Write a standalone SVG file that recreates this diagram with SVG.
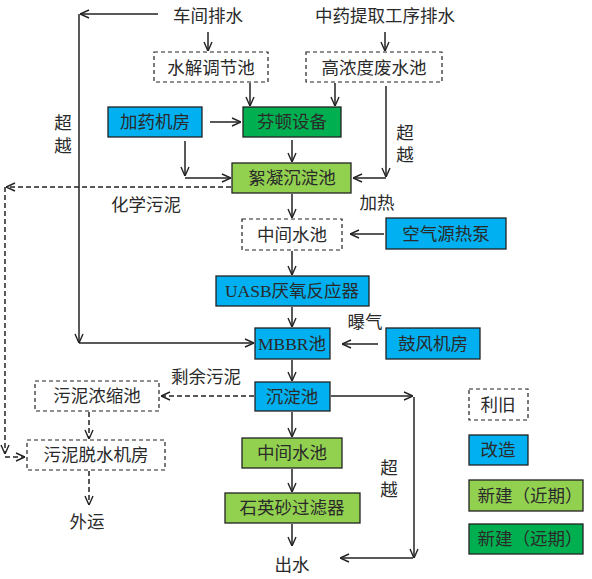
<svg xmlns="http://www.w3.org/2000/svg" width="592" height="579" viewBox="0 0 592 579">
<defs>
<marker id="a" viewBox="0 0 10 10" refX="10" refY="5" markerWidth="10" markerHeight="10" markerUnits="userSpaceOnUse" orient="auto">
<path d="M1,1 L10,5 L1,9" fill="none" stroke="#222" stroke-width="1.4"/>
</marker>
<style>
text{font-family:"Liberation Serif","Noto Sans CJK SC",serif;font-size:17.5px;fill:#2a2a2a;text-anchor:middle;dominant-baseline:central}
.c{stroke:#222;stroke-width:1.5;fill:none;marker-end:url(#a)}
.d{stroke-dasharray:5,3}
.old{fill:#fff;stroke:#222;stroke-width:1.2;stroke-dasharray:4,3}
.blue{fill:#00B0F0;stroke:#222;stroke-width:1.3}
.lg{fill:#92D050;stroke:#222;stroke-width:1.3}
.dg{fill:#00B050;stroke:#222;stroke-width:1.3}
</style>
</defs>
<rect width="592" height="579" fill="#fff"/>
<g id="connectors">
<path class="c" d="M158,14 H80"/>
<path class="c" d="M79,14 V343"/>
<path class="c" d="M79,343 H254"/>
<path class="c" d="M208,32 V51"/>
<path class="c" d="M385,32 V51"/>
<path class="c" d="M250,83 V106"/>
<path class="c" d="M335,83 V106"/>
<path class="c" d="M210,122 H241"/>
<path class="c" d="M185,141 V176"/>
<path class="c" d="M185,178 H231"/>
<path class="c" d="M292,140 V162"/>
<path class="c" d="M386,86 V177"/>
<path class="c" d="M386,178 H353"/>
<path class="c d" d="M231,187 H6"/>
<path class="c d" d="M5,187 V454"/>
<path class="c d" d="M5,457 H25"/>
<path class="c" d="M292,194 V218"/>
<path class="c" d="M384,234 H350"/>
<path class="c" d="M292,251 V275"/>
<path class="c" d="M292,307 V327"/>
<path class="c" d="M378,344 H342"/>
<path class="c" d="M292,360 V381"/>
<path class="c d" d="M254,396 H161"/>
<path class="c d" d="M89,412 V439"/>
<path class="c d" d="M89,471 V505"/>
<path class="c" d="M292,412 V437"/>
<path class="c" d="M292,469 V492"/>
<path class="c" d="M292,524 V546"/>
<path class="c" d="M331,396 H413"/>
<path class="c" d="M414,397 V558"/>
<path class="c" d="M413,558 H340"/>
</g>
<g id="labels">
<text x="208" y="16">车间排水</text>
<text x="385" y="16">中药提取工序排水</text>
<text x="63" y="123">超</text>
<text x="63" y="146">越</text>
<text x="405" y="133">超</text>
<text x="405" y="155">越</text>
<text x="146" y="205">化学污泥</text>
<text x="377" y="203">加热</text>
<text x="365" y="322">曝气</text>
<text x="206" y="377">剩余污泥</text>
<text x="87" y="522">外运</text>
<text x="292" y="565">出水</text>
<text x="389" y="468">超</text>
<text x="389" y="490">越</text>
</g>
<g id="n_shuijie"><rect class="old" x="154" y="52" width="114" height="30"/><text x="211" y="68">水解调节池</text></g>
<g id="n_gaonongdu"><rect class="old" x="306" y="52" width="136" height="30"/><text x="374" y="68">高浓度废水池</text></g>
<g id="n_jiayao"><rect class="blue" x="108" y="107" width="94" height="30"/><text x="155" y="122">加药机房</text></g>
<g id="n_fenton"><rect class="dg" x="243" y="107" width="98" height="30"/><text x="292" y="122">芬顿设备</text></g>
<g id="n_xuning"><rect class="lg" x="232" y="163" width="119" height="30"/><text x="292" y="178">絮凝沉淀池</text></g>
<g id="n_zhongjian1"><rect class="old" x="242" y="219" width="100" height="31"/><text x="292" y="235">中间水池</text></g>
<g id="n_rebeng"><rect class="blue" x="386" y="218" width="120" height="31"/><text x="446" y="234">空气源热泵</text></g>
<g id="n_uasb"><rect class="blue" x="216" y="276" width="153" height="30"/><text x="292" y="291">UASB厌氧反应器</text></g>
<g id="n_mbbr"><rect class="blue" x="255" y="328" width="75" height="31"/><text x="292" y="344">MBBR池</text></g>
<g id="n_gufeng"><rect class="blue" x="386" y="328" width="94" height="31"/><text x="433" y="344">鼓风机房</text></g>
<g id="n_chendian"><rect class="blue" x="255" y="382" width="75" height="29"/><text x="292" y="397">沉淀池</text></g>
<g id="n_nongsuo"><rect class="old" x="35" y="381" width="124" height="30"/><text x="97" y="396">污泥浓缩池</text></g>
<g id="n_tuoshui"><rect class="old" x="27" y="440" width="138" height="30"/><text x="96" y="455">污泥脱水机房</text></g>
<g id="n_zhongjian2"><rect class="lg" x="242" y="438" width="100" height="30"/><text x="292" y="453">中间水池</text></g>
<g id="n_shiying"><rect class="lg" x="225" y="493" width="135" height="30"/><text x="292" y="508">石英砂过滤器</text></g>
<g id="legend_old"><rect class="old" x="469" y="389" width="59" height="31"/><text x="498" y="405">利旧</text></g>
<g id="legend_gaizao"><rect class="blue" x="469" y="435" width="59" height="30"/><text x="498" y="450">改造</text></g>
<g id="legend_jinqi"><rect class="lg" x="469" y="480" width="114" height="31"/><text x="530" y="496">新建（近期）</text></g>
<g id="legend_yuanqi"><rect class="dg" x="469" y="524" width="114" height="30"/><text x="530" y="539">新建（远期）</text></g>
</svg>
